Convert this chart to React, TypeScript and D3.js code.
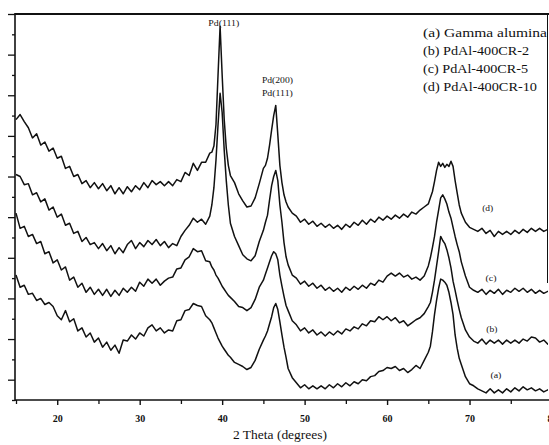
import React, { useEffect, useRef } from "react";
import * as d3 from "d3";

// 2 theta sampling positions (degrees), finer around the peaks
const theta = [
  15, 15.5, 16, 16.5, 17, 17.5, 18, 18.5, 19, 19.5, 20, 20.5, 21, 21.5, 22, 22.5, 23, 23.5, 24, 24.5,
  25, 25.5, 26, 26.5, 27, 27.5, 28, 28.5, 29, 29.5, 30, 30.5, 31, 31.5, 32, 32.5, 33, 33.5, 34, 34.5,
  35, 35.5, 36, 36.5, 37, 37.5, 38, 38.5,
  38.75, 39, 39.25, 39.5, 39.75, 40, 40.25, 40.5, 40.75, 41,
  41.5, 42, 42.5, 43, 43.5, 44, 44.5, 45,
  45.25, 45.5, 45.75, 46, 46.25, 46.5, 46.75, 47, 47.25, 47.5, 47.75, 48,
  48.5, 49, 49.5, 50, 50.5, 51, 51.5, 52, 52.5, 53, 53.5, 54, 54.5, 55, 55.5, 56, 56.5, 57,
  57.5, 58, 58.5, 59, 59.5, 60, 60.5, 61, 61.5, 62, 62.5, 63, 63.5, 64, 64.5, 65,
  65.25, 65.5, 65.75, 66, 66.25, 66.5, 66.75, 67, 67.25, 67.5, 67.75, 68, 68.25, 68.5, 68.75, 69,
  69.5, 70, 70.5, 71, 71.5, 72, 72.5, 73, 73.5, 74, 74.5, 75, 75.5, 76, 76.5, 77, 77.5, 78, 78.5, 79, 79.5, 80,
];

// intensities (a.u., stacked as in the figure)
const gammaAlumina = [
  123, 111, 113, 104, 105, 98, 100, 94, 96, 92, 83, 79, 88, 77, 80, 68, 71, 62, 66, 57,
  61, 52, 57, 49, 54, 46, 59, 58, 64, 60, 66, 63, 71, 74, 68, 71, 66, 69, 68, 78,
  79, 88, 89, 95, 93, 92, 83, 79,
  76, 71, 66, 61, 57, 53, 50, 47, 44, 42,
  37, 35, 33, 30, 32, 39, 50, 59,
  63, 68, 75, 82, 91, 95, 89, 77, 64, 52, 42, 31,
  22, 17, 12, 15, 11, 14, 11, 14, 11, 15, 12, 16, 13, 17, 14, 18, 16, 20,
  19, 23, 24, 28, 29, 32, 31, 33, 29, 31, 27, 30, 34, 31, 39, 47,
  53, 67, 84, 98, 110, 119, 118, 116, 113, 106, 96, 84, 64, 51, 41, 35,
  23, 16, 14, 11, 9, 7, 11, 7, 10, 7, 11, 8, 12, 9, 13, 10, 12, 9, 11, 8, 10, 8,
];

const pdAl2 = [
  184, 169, 171, 161, 163, 154, 156, 144, 146, 135, 138, 128, 131, 118, 121, 111, 115, 106, 111, 104,
  109, 103, 109, 102, 108, 103, 110, 106, 111, 107, 116, 112, 119, 115, 119, 113, 117, 120, 121, 129,
  130, 138, 141, 149, 146, 147, 137, 136,
  131, 128, 123, 120, 116, 112, 109, 106, 103, 101,
  97, 92, 91, 88, 91, 99, 111, 118,
  124, 130, 136, 142, 146, 144, 138, 123, 112, 102, 93, 88,
  78, 74, 68, 71, 66, 69, 64, 67, 63, 67, 64, 68, 65, 70, 68, 72, 70, 75,
  73, 78, 77, 82, 79, 82, 78, 81, 76, 78, 73, 76, 79, 81, 85, 92,
  96, 106, 118, 132, 146, 161, 157, 154, 148, 140, 130, 117, 108, 98, 89, 81,
  69, 62, 58, 56, 60, 55, 59, 56, 59, 55, 59, 56, 59, 56, 60, 58, 62, 61, 57, 59, 55, 56,
];

const pdAl5 = [
  222, 220, 212, 213, 202, 204, 195, 198, 187, 190, 180, 183, 172, 174, 164, 166, 156, 160, 153, 155,
  149, 154, 147, 152, 144, 150, 145, 153, 157, 149, 155, 151, 157, 153, 158, 152, 156, 150, 154, 152,
  161, 167, 172, 179, 175, 178, 173, 181,
  192, 209, 236, 271, 302, 283, 246, 216, 192, 174,
  161, 152, 143, 139, 137, 142, 156, 167,
  175, 182, 197, 211, 220, 226, 216, 192, 175, 155, 141, 133,
  123, 120, 114, 117, 112, 115, 110, 113, 108, 111, 107, 110, 106, 111, 108, 112, 109, 113,
  110, 115, 113, 118, 116, 122, 125, 122, 125, 121, 123, 119, 121, 118, 122, 132,
  140, 150, 161, 175, 187, 199, 202, 198, 193, 185, 179, 170, 161, 153, 146, 136,
  122, 111, 108, 106, 109, 104, 108, 105, 109, 104, 108, 106, 110, 107, 110, 106, 109, 105, 108, 105, 107, 106,
];

const pdAl10 = [
  276, 281, 274, 268, 258, 262, 251, 254, 245, 248, 238, 240, 228, 230, 220, 222, 213, 216, 209, 214,
  208, 213, 206, 211, 203, 209, 203, 210, 205, 211, 207, 214, 209, 216, 212, 215, 211, 215, 211, 217,
  215, 224, 221, 233, 226, 234, 234, 243,
  244, 250, 271, 320, 368, 320, 276, 248, 231, 221,
  214, 203, 196, 190, 191, 199, 213, 228,
  231, 238, 251, 266, 280, 290, 261, 231, 214, 202, 195, 190,
  184, 181, 175, 178, 173, 176, 171, 174, 170, 173, 169, 172, 168, 173, 170, 175, 172, 177,
  173, 178, 175, 180, 177, 181, 178, 182, 179, 183, 180, 185, 183, 187, 190, 193,
  199, 205, 215, 226, 234, 230, 233, 229, 232, 230, 235, 230, 216, 204, 192, 184,
  175, 170, 168, 166, 169, 164, 167, 161, 166, 163, 166, 163, 167, 164, 168, 165, 169, 166, 169, 166, 168, 167,
];

const xMajorTicks = [20, 30, 40, 50, 60, 70, 80];
const xMinorTicks = [15, 25, 35, 45, 55, 65, 75];
const yTicks = [0, 20, 40, 60, 80, 100, 120, 140, 160, 180, 200, 220, 240, 260, 280, 300, 320, 340, 360, 380];

const legendLabels = ["(a) Gamma alumina", "(b) PdAl-400CR-2", "(c) PdAl-400CR-5", "(d) PdAl-400CR-10"];
const legendWidths = [124, 106, 105, 114];

const curveTags = ["(a)", "(b)", "(c)", "(d)"];
const tagTheta = [73.2, 72.7, 72.6, 72.2];
const tagValue = [22, 67, 117, 186];

const serif = "Liberation Serif, Times New Roman, serif";

export default function App() {
  const ref = useRef<SVGSVGElement>(null);

  useEffect(() => {
    const svg = d3.select(ref.current);
    svg.selectAll("*").remove();

    const x = d3.scaleLinear().domain([15, 80]).range([16, 552]);
    const y = d3.scaleLinear().domain([0, 380]).range([400, 14]);

    svg
      .append("defs")
      .append("clipPath")
      .attr("id", "plot-clip")
      .append("rect")
      .attr("x", 15)
      .attr("y", 0)
      .attr("width", 533)
      .attr("height", 400);

    // curves
    const line = d3
      .line<[number, number]>()
      .x((d) => x(d[0]))
      .y((d) => y(d[1]));

    const series = [gammaAlumina, pdAl2, pdAl5, pdAl10];
    const curves = svg.append("g").attr("clip-path", "url(#plot-clip)");
    series.forEach((vals) => {
      const pts = theta.map((t, i) => [t, vals[i]] as [number, number]);
      curves
        .append("path")
        .attr("d", line(pts))
        .attr("fill", "none")
        .attr("stroke", "#111")
        .attr("stroke-width", 1.5)
        .attr("stroke-linejoin", "round");
    });

    // frame
    const frame = svg.append("g").attr("stroke", "#111");
    frame.append("line").attr("x1", 15).attr("x2", 549).attr("y1", 14).attr("y2", 14).attr("stroke-width", 2);
    frame.append("line").attr("x1", 15).attr("x2", 15).attr("y1", 13).attr("y2", 401).attr("stroke-width", 1.6);
    frame.append("line").attr("x1", 15).attr("x2", 549).attr("y1", 400).attr("y2", 400).attr("stroke-width", 1.6);
    frame.append("line").attr("x1", 547.5).attr("x2", 547.5).attr("y1", 14).attr("y2", 283).attr("stroke-width", 1);

    // y ticks, long and short alternating
    const yLong = svg
      .append("g")
      .attr("transform", "translate(15,0)")
      .call(d3.axisLeft(y).tickValues(yTicks.filter((v, i) => i % 2 === 1)).tickSize(7).tickFormat(() => ""));
    const yShort = svg
      .append("g")
      .attr("transform", "translate(15,0)")
      .call(d3.axisLeft(y).tickValues(yTicks.filter((v, i) => i % 2 === 0)).tickSize(3).tickFormat(() => ""));
    [yLong, yShort].forEach((g) => {
      g.select(".domain").remove();
      g.selectAll("line").attr("stroke", "#111").attr("stroke-width", 1.3);
    });

    // x ticks
    const xAxisG = svg
      .append("g")
      .attr("transform", "translate(0,400)")
      .call(d3.axisBottom(x).tickValues(xMajorTicks).tickSize(5).tickPadding(10).tickFormat(d3.format("d")));
    xAxisG.select(".domain").remove();
    xAxisG.selectAll("line").attr("stroke", "#111").attr("stroke-width", 1.4);
    xAxisG
      .selectAll("text")
      .attr("font-family", serif)
      .attr("font-size", 10)
      .attr("font-weight", "bold")
      .attr("fill", "#111");

    const xMinorG = svg
      .append("g")
      .attr("transform", "translate(0,400)")
      .call(d3.axisBottom(x).tickValues(xMinorTicks).tickSize(4).tickFormat(() => ""));
    xMinorG.select(".domain").remove();
    xMinorG.selectAll("line").attr("stroke", "#111").attr("stroke-width", 1.3);

    svg
      .append("text")
      .attr("x", 280)
      .attr("y", 439)
      .attr("text-anchor", "middle")
      .attr("font-family", serif)
      .attr("font-size", 13)
      .attr("textLength", 94)
      .attr("lengthAdjust", "spacingAndGlyphs")
      .attr("fill", "#111")
      .text("2 Theta (degrees)");

    // peak labels
    const peakLabel = (t: number, v: number, txt: string) =>
      svg
        .append("text")
        .attr("x", x(t))
        .attr("y", y(v))
        .attr("text-anchor", "middle")
        .attr("font-family", serif)
        .attr("font-size", 9)
        .attr("textLength", 31)
        .attr("lengthAdjust", "spacingAndGlyphs")
        .attr("fill", "#111")
        .text(txt);
    peakLabel(40.2, 368, "Pd(111)");
    peakLabel(46.7, 312, "Pd(200)");
    peakLabel(46.7, 299, "Pd(111)");

    // curve tags
    curveTags.forEach((tag, i) => {
      svg
        .append("text")
        .attr("x", x(tagTheta[i]))
        .attr("y", y(tagValue[i]))
        .attr("text-anchor", "middle")
        .attr("font-family", serif)
        .attr("font-size", 8)
        .attr("textLength", 11)
        .attr("lengthAdjust", "spacingAndGlyphs")
        .attr("fill", "#111")
        .text(tag);
    });

    // legend
    legendLabels.forEach((label, i) => {
      svg
        .append("text")
        .attr("x", 423)
        .attr("y", 37 + i * 18)
        .attr("font-family", serif)
        .attr("font-size", 12.5)
        .attr("textLength", legendWidths[i])
        .attr("lengthAdjust", "spacingAndGlyphs")
        .attr("fill", "#111")
        .text(label);
    });
  }, []);

  return (
    <svg
      ref={ref}
      width={549}
      height={445}
      style={{ position: "absolute", left: 0, top: 0, background: "#fff" }}
    />
  );
}
